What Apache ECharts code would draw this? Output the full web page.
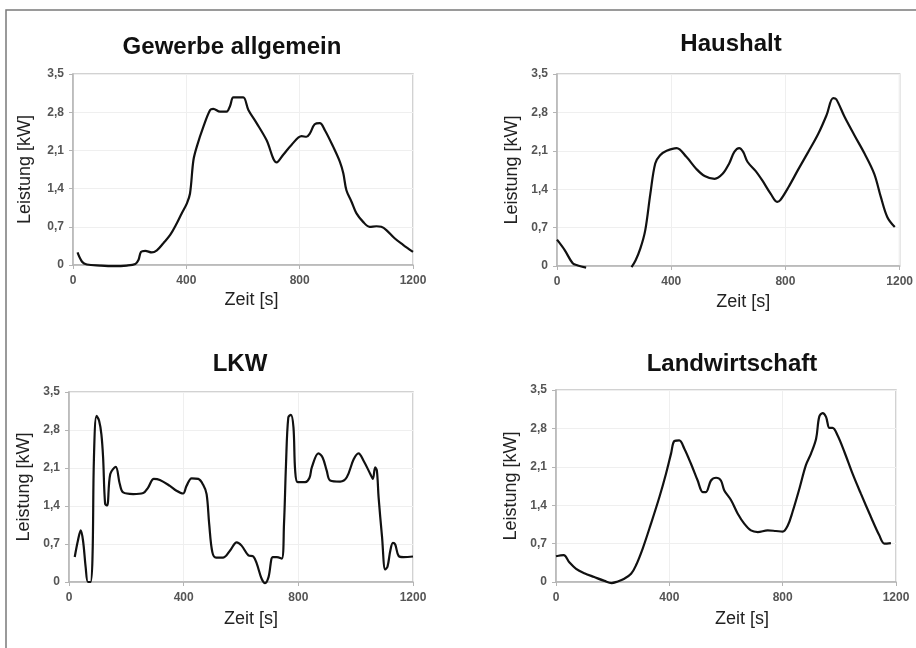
<!DOCTYPE html>
<html>
<head>
<meta charset="utf-8">
<script src="https://cdn.jsdelivr.net/npm/echarts@6/dist/echarts.min.js"></script>
<style>html,body{margin:0;padding:0;background:#fff;}#c{width:916px;height:648px;}</style>
</head>
<body>
<div id="c"></div>
<script>
var titles = ['Gewerbe allgemein', 'Haushalt', 'LKW', 'Landwirtschaft'];
var xTicks = [0, 400, 800, 1200];
var xTickLabels = ['0', '400', '800', '1200'];
var yTickLabels = ['0', '0,7', '1,4', '2,1', '2,8', '3,5'];
var xName = 'Zeit [s]';
var yName = 'Leistung [kW]';

var gewerbe = [
[16,0.23],[32,0.06],[49,0.01],[96,-0.01],[143,-0.02],[190,-0.01],[220,0.02],[231,0.09],[240,0.24],[255,0.26],
[278,0.23],[296,0.27],[319,0.40],[343,0.55],[366,0.76],[384,0.95],[402,1.13],[413,1.31],[425,1.92],[437,2.17],
[460,2.53],[484,2.84],[495,2.86],[519,2.81],[542,2.81],[554,2.91],[566,3.07],[583,3.07],[601,3.07],[619,2.84],
[648,2.60],[683,2.29],[719,1.88],[742,2.02],[771,2.20],[807,2.36],[824,2.35],[836,2.41],[853,2.58],[871,2.60],
[889,2.47],[918,2.17],[942,1.89],[954,1.68],[965,1.37],[983,1.16],[1000,0.95],[1024,0.79],[1047,0.70],[1071,0.71],
[1088,0.70],[1106,0.64],[1135,0.49],[1165,0.37],[1200,0.24]
];
var haushalt = [
[0,0.48],[27,0.29],[55,0.05],[73,0.01],[102,-0.03],[null,null],
[261,-0.02],[275,0.10],[292,0.32],[309,0.65],[327,1.32],[344,1.87],[361,2.02],[384,2.10],[419,2.15],[453,1.99],
[488,1.77],[517,1.64],[552,1.59],[580,1.68],[603,1.87],[621,2.08],[638,2.15],[652,2.08],[667,1.90],[696,1.73],
[719,1.56],[748,1.32],[771,1.17],[782,1.20],[811,1.44],[846,1.77],[880,2.08],[915,2.41],[944,2.75],[967,3.06],
[978,3.04],[1007,2.72],[1042,2.38],[1077,2.05],[1111,1.68],[1134,1.26],[1157,0.89],[1183,0.71]
];
var lkw = [
[20,0.46],[31,0.76],[41,0.95],[49,0.76],[58,0.28],[66,0.0],[75,0.0],[82,0.46],[87,2.29],[96,3.06],
[105,2.97],[113,2.72],[119,2.29],[126,1.44],[133,1.41],[144,1.99],[163,2.12],[177,1.81],[189,1.65],[224,1.62],
[259,1.64],[276,1.74],[296,1.90],[317,1.88],[352,1.77],[375,1.68],[398,1.63],[410,1.77],[428,1.91],[451,1.90],
[468,1.79],[480,1.62],[489,1.07],[500,0.55],[513,0.45],[538,0.45],[562,0.58],[585,0.73],[602,0.67],[626,0.49],
[643,0.47],[655,0.34],[672,0.06],[684,-0.02],[696,0.09],[711,0.46],[725,0.46],[742,0.43],[750,1.07],[757,2.17],
[765,3.03],[774,3.08],[783,2.85],[789,2.05],[798,1.84],[824,1.84],[839,1.92],[847,2.11],[870,2.37],[885,2.29],
[899,2.05],[911,1.87],[946,1.85],[969,1.93],[993,2.26],[1010,2.37],[1028,2.23],[1051,1.99],[1060,1.90],[1068,2.11],
[1074,2.05],[1080,1.56],[1092,0.83],[1103,0.23],[1111,0.28],[1121,0.58],[1130,0.72],[1138,0.69],[1150,0.48],[1167,0.46],
[1200,0.47]
];
var landwirtschaft = [
[0,0.47],[27,0.49],[47,0.36],[71,0.24],[100,0.16],[135,0.09],[171,0.02],[196,-0.02],[218,0.01],[241,0.06],
[265,0.15],[282,0.30],[306,0.61],[335,1.06],[365,1.55],[388,1.97],[406,2.34],[418,2.57],[435,2.58],[453,2.43],
[476,2.16],[500,1.85],[518,1.64],[529,1.64],[547,1.85],[565,1.90],[582,1.85],[594,1.67],[618,1.49],[641,1.25],
[665,1.06],[688,0.94],[712,0.91],[747,0.94],[776,0.93],[800,0.92],[818,1.03],[835,1.28],[859,1.70],[882,2.13],
[900,2.34],[918,2.61],[929,3.01],[941,3.08],[953,3.01],[965,2.81],[976,2.81],[994,2.67],[1018,2.37],[1047,1.97],
[1076,1.61],[1112,1.18],[1141,0.85],[1159,0.70],[1182,0.71]
];
var seriesData = [gewerbe, haushalt, lkw, landwirtschaft];

var FONT = '"Liberation Sans", Arial, sans-serif';
var grids = [
  {left: 73, top: 74, width: 340, height: 191},
  {left: 557, top: 74, width: 347, height: 192},
  {left: 69, top: 392, width: 344, height: 190},
  {left: 556, top: 390, width: 340, height: 192}
];
var titlePos = [[232, 47], [731, 44], [240, 364], [732, 364]];
var xNamePad = [17, 30, 20, 32];
var xNameGap = [26, 27, 28, 28];
var yNameGap = [39, 36, 36, 36];

var option = {
  backgroundColor: '#fff',
  animation: false,
  grid: grids.map(function (g) { return Object.assign({show: true, borderColor: '#c4c4c4', borderWidth: 1.5, backgroundColor: 'transparent'}, g); }),
  xAxis: grids.map(function (g, i) {
    return {
      type: 'value', gridIndex: i, min: xTicks[0], max: xTicks[xTicks.length - 1], interval: 400,
      name: xName, nameLocation: 'middle', nameGap: xNameGap[i],
      nameTextStyle: {fontFamily: FONT, fontSize: 18, color: '#222', padding: [0, 0, 0, xNamePad[i]]},
      axisLine: {show: true, lineStyle: {color: '#b4b4b4', width: 1.5}},
      axisTick: {show: true, length: 4, lineStyle: {color: '#b4b4b4'}},
      axisLabel: {fontFamily: FONT, fontSize: 12, fontWeight: 'bold', color: '#555', margin: 10,
        formatter: function (v) { var k = xTicks.indexOf(v); return k >= 0 ? xTickLabels[k] : ''; }},
      splitLine: {show: true, lineStyle: {color: '#efefef', width: 1}}
    };
  }),
  yAxis: grids.map(function (g, i) {
    return {
      type: 'value', gridIndex: i, min: 0, max: 3.5, interval: 0.7,
      name: yName, nameLocation: 'middle', nameGap: yNameGap[i],
      nameTextStyle: {fontFamily: FONT, fontSize: 18, color: '#222'},
      axisLine: {show: true, lineStyle: {color: '#b4b4b4', width: 1.5}},
      axisTick: {show: true, length: 4, lineStyle: {color: '#b4b4b4'}},
      axisLabel: {fontFamily: FONT, fontSize: 12, fontWeight: 'bold', color: '#555', margin: 9,
        formatter: function (v) { return yTickLabels[Math.round(v / 0.7)]; }},
      splitLine: {show: true, lineStyle: {color: '#efefef', width: 1}}
    };
  }),
  series: seriesData.map(function (d, i) {
    return {
      type: 'line', xAxisIndex: i, yAxisIndex: i, data: d, showSymbol: false, symbol: 'none',
      smooth: 0.35, connectNulls: false, clip: false,
      lineStyle: {color: '#111', width: 2.2}
    };
  }),
  graphic: [
    {type: 'rect', shape: {x: 6, y: 10, width: 930, height: 660}, style: {fill: 'none', stroke: '#7a7a7a', lineWidth: 1.5}, silent: true}
  ].concat(titles.map(function (t, i) {
    return {type: 'text', x: titlePos[i][0], y: titlePos[i][1],
      style: {text: t, fontFamily: FONT, fontSize: 24, fontWeight: 'bold', fill: '#111', align: 'center', verticalAlign: 'middle'}};
  }))
};

var chart = echarts.init(document.getElementById('c'), null, {renderer: 'canvas'});
chart.setOption(option);
</script>
</body>
</html>
